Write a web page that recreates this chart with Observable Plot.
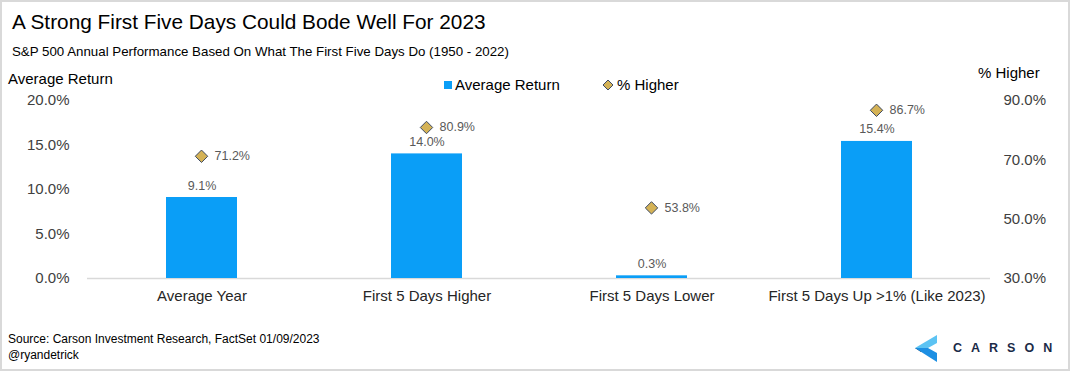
<!DOCTYPE html>
<html>
<head>
<meta charset="utf-8">
<script src="https://cdn.jsdelivr.net/npm/d3@7"></script>
<script src="https://cdn.jsdelivr.net/npm/@observablehq/plot@0.6"></script>
<style>
  html, body { margin: 0; padding: 0; background: #fff; }
  #wrap { position: relative; width: 1070px; height: 371px; overflow: hidden; background: #fff;
          font-family: "Liberation Sans", Arial, sans-serif; }
  .t { position: absolute; white-space: nowrap; line-height: 1; }
  .layer { position: absolute; left: 0; top: 88px; }
  .layer svg { display: block; }
  #frame { position: absolute; inset: 0; border: 2px solid #d9d9d9; pointer-events: none; }
</style>
</head>
<body>
<div id="wrap">
  <div class="t" style="left:12px;top:11.7px;font-size:20.8px;color:#000;">A Strong First Five Days Could Bode Well For 2023</div>
  <div class="t" style="left:12px;top:45.3px;font-size:13.3px;color:#000;">S&amp;P 500 Annual Performance Based On What The First Five Days Do (1950 - 2022)</div>
  <div class="t" style="left:8px;top:71.3px;font-size:15px;color:#000;">Average Return</div>
  <div class="t" style="left:978px;top:64.6px;font-size:15px;color:#000;">% Higher</div>

  <div style="position:absolute;left:444px;top:81px;width:8px;height:8px;background:#0a9ef7;"></div>
  <div class="t" style="left:455px;top:77.3px;font-size:15px;color:#000;">Average Return</div>
  <svg style="position:absolute;left:602px;top:79px;" width="12" height="12">
    <polygon points="6,1 11,6 6,11 1,6" fill="#d4b256" stroke="#3d4a63" stroke-width="1"/>
  </svg>
  <div class="t" style="left:617px;top:77.3px;font-size:15px;color:#000;">% Higher</div>

  <div id="chart1" class="layer"></div>
  <div id="chart2" class="layer"></div>

  <div class="t" style="left:8px;top:332.5px;font-size:12px;color:#000;">Source: Carson Investment Research, FactSet 01/09/2023</div>
  <div class="t" style="left:8px;top:349px;font-size:12px;color:#000;">@ryandetrick</div>

  <svg style="position:absolute;left:0;top:0;" width="1070" height="371">
    <polygon points="915,348 937,335 937,343 928,348" fill="#5cc3f3"/>
    <polygon points="915,348 928,348 921,352" fill="#1b2a47"/>
    <polygon points="915,348 928,348 937,353 937,362" fill="#1d8fe3"/>
    <text x="953" y="352" font-family="Liberation Sans, Arial, sans-serif" font-size="12.5" font-weight="bold"
          letter-spacing="9" fill="#1b2a47">CARSON</text>
  </svg>
  <div id="frame"></div>
</div>
<script>
const categories = ["Average Year", "First 5 Days Higher", "First 5 Days Lower", "First 5 Days Up >1% (Like 2023)"];
const avgReturn = [9.1, 14.0, 0.3, 15.4];
const pctHigher = [71.2, 80.9, 53.8, 86.7];
const leftTicks = [0, 5, 10, 15, 20];
const rightTicks = [30, 50, 70, 90];

const data = categories.map((c, i) => ({cat: c, ret: avgReturn[i], up: pctHigher[i]}));

const common = {
  width: 1070, height: 222,
  marginTop: 12, marginBottom: 32, marginLeft: 87, marginRight: 80,
  style: {fontFamily: "Liberation Sans, Arial, sans-serif", fontSize: "15px", color: "#404040",
          background: "transparent", overflow: "visible"}
};
const xScale = {domain: categories, paddingInner: 0.685, paddingOuter: 0.3425, axis: null, label: null};

const p1 = Plot.plot({
  ...common,
  x: xScale,
  y: {domain: [0, 20], axis: null, label: null},
  marks: [
    Plot.ruleY([0], {stroke: "#d9d9d9", strokeWidth: 1.5}),
    Plot.barY(data, {x: "cat", y: "ret", fill: "#0a9ef7"}),
    Plot.text(data, {x: "cat", y: "ret", text: d => d.ret.toFixed(1) + "%", dy: -12, fontSize: 12.5, fill: "#595959"}),
    Plot.axisX({tickSize: 0, tickPadding: 12, fontSize: 15, color: "#262626", label: null}),
    Plot.axisY({ticks: leftTicks, tickFormat: d => d.toFixed(1) + "%", tickSize: 0, tickPadding: 18,
                fontSize: 15, color: "#404040", label: null})
  ]
});
document.getElementById("chart1").appendChild(p1);

const p2 = Plot.plot({
  ...common,
  x: xScale,
  y: {domain: [30, 90], axis: null, label: null},
  marks: [
    Plot.dot(data, {x: "cat", y: "up", symbol: "diamond2", r: 5.6, fill: "#d4b256", stroke: "#3d4a63", strokeWidth: 1}),
    Plot.text(data, {x: "cat", y: "up", text: d => d.up.toFixed(1) + "%", dx: 13, textAnchor: "start",
                     fontSize: 12.5, fill: "#595959"}),
    Plot.axisY({anchor: "right", ticks: rightTicks, tickFormat: d => d.toFixed(1) + "%", tickSize: 0,
                tickPadding: 13, fontSize: 15, color: "#404040", label: null})
  ]
});
document.getElementById("chart2").appendChild(p2);
</script>
</body>
</html>
